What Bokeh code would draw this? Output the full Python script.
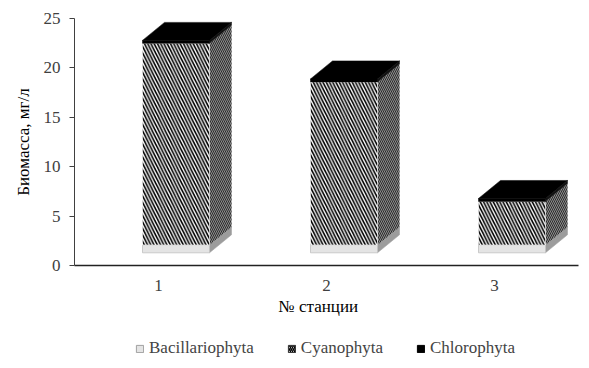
from bokeh.plotting import figure
from bokeh.layouts import column
from bokeh.models import Range1d, FixedTicker, Legend, LegendItem, Title
from bokeh.embed import file_html
from bokeh.resources import INLINE

# ---- data ----
stations = [1, 2, 3]
station_labels = ["1", "2", "3"]
series_names = ["Bacillariophyta", "Cyanophyta", "Chlorophyta"]
bacillariophyta = [0.8, 0.8, 0.8]
cyanophyta = [20.4, 16.5, 4.4]
chlorophyta = [0.3, 0.3, 0.3]
y_ticks = [0, 5, 10, 15, 20, 25]

# ---- layout constants ----
W, H1, H2 = 589, 330, 38
LEFT, RIGHT, TOP, BOTTOM = 74, 11, 18, 65
frame_w = W - LEFT - RIGHT
frame_h = H1 - TOP - BOTTOM
x0, x1 = 0.5, 3.5
y0, y1 = 0, 25
px_x = (x1 - x0) / frame_w
px_y = (y1 - y0) / frame_h

DX = 22 * px_x       # depth offset (x)
DY = 18 * px_y       # depth offset (y)
BAR_W = 67 * px_x
BAR_SHIFT = 17.5 * px_x
BASE = 12.7 * px_y

FONT = "Liberation Serif"
FS = "17px"

p = figure(width=W, height=H1, output_backend="svg", toolbar_location=None,
           x_range=Range1d(x0, x1), y_range=Range1d(y0, y1),
           min_border_left=LEFT, min_border_right=RIGHT,
           min_border_top=TOP, min_border_bottom=BOTTOM)
p.outline_line_color = None
p.grid.visible = False
p.background_fill_color = "white"

front_styles = [
    dict(fill_color="#e4e4e4", line_color="#c0c0c0", line_width=0.8),
    dict(fill_color="white", hatch_pattern="\\", hatch_color="black",
         hatch_scale=6.5, hatch_weight=1.6, line_color="#ffffff", line_width=0.5),
    dict(fill_color="black", line_color="black", line_width=0.5),
]
side_styles = [
    dict(fill_color="#9c9c9c", line_color="#9c9c9c", line_width=0.5),
    dict(fill_color="#8c8c8c", hatch_pattern="\\", hatch_color="#2c2c2c",
         hatch_scale=4, hatch_weight=1, line_color=None),
    dict(fill_color="#111111", line_color="#111111", line_width=0.5),
]
top_style = dict(fill_color="black", line_color="black", line_width=0.5)
key_styles = [
    dict(fill_color="#e4e4e4", line_color="#a0a0a0", line_width=1),
    dict(fill_color="white", hatch_pattern="\\", hatch_color="black",
         hatch_scale=4, hatch_weight=1.5, line_color="#333333", line_width=1),
    dict(fill_color="black", line_color="black", line_width=1),
]

series = [bacillariophyta, cyanophyta, chlorophyta]
cum = [0.0] * len(stations)
for k, vals in enumerate(series):
    lefts, rights, bottoms, tops = [], [], [], []
    sx, sy = [], []
    for i, s in enumerate(stations):
        L = s + BAR_SHIFT - BAR_W / 2
        R = s + BAR_SHIFT + BAR_W / 2
        b = BASE + cum[i]
        t = BASE + cum[i] + vals[i]
        lefts.append(L); rights.append(R); bottoms.append(b); tops.append(t)
        sx.append([R, R + DX, R + DX, R])
        sy.append([b, b + DY, t + DY, t])
    p.patches(xs=sx, ys=sy, **side_styles[k])
    p.quad(left=lefts, right=rights, bottom=bottoms, top=tops, **front_styles[k])
    cum = [cum[i] + vals[i] for i in range(len(stations))]

# top faces of the stacks
tx, ty = [], []
for i, s in enumerate(stations):
    L = s + BAR_SHIFT - BAR_W / 2
    R = s + BAR_SHIFT + BAR_W / 2
    t = BASE + cum[i]
    tx.append([L, R, R + DX, L + DX])
    ty.append([t, t, t + DY, t + DY])
p.patches(xs=tx, ys=ty, **top_style)

# ---- axes ----
p.yaxis.ticker = FixedTicker(ticks=y_ticks)
p.yaxis.axis_label = "Биомасса, мг/л"
p.yaxis.axis_label_text_font = FONT
p.yaxis.axis_label_text_font_style = "normal"
p.yaxis.axis_label_text_font_size = FS
p.yaxis.axis_label_text_color = "black"
p.yaxis.axis_label_standoff = 8
p.yaxis.major_label_text_font = FONT
p.yaxis.major_label_text_font_size = FS
p.yaxis.major_label_text_color = "#404040"
p.yaxis.major_label_standoff = 9
p.yaxis.major_tick_out = 5
p.yaxis.major_tick_in = 0
p.yaxis.minor_tick_line_color = None
p.yaxis.axis_line_color = "#404040"
p.yaxis.major_tick_line_color = "#404040"

p.xaxis.ticker = FixedTicker(ticks=stations)
p.xaxis.major_label_overrides = {s: l for s, l in zip(stations, station_labels)}
p.xaxis.major_label_text_font = FONT
p.xaxis.major_label_text_font_size = FS
p.xaxis.major_label_text_color = "#404040"
p.xaxis.major_label_standoff = 8
p.xaxis.major_tick_line_color = None
p.xaxis.minor_tick_line_color = None
p.xaxis.axis_line_color = "#222222"
p.xaxis.axis_line_width = 1.5

xlabel = Title(text="№ станции", align="left", offset=204,
               text_font=FONT, text_font_size=FS, text_font_style="normal",
               text_color="black", standoff=3)
p.add_layout(xlabel, "below")

# ---- legend (separate strip below the chart; its frame aligns with the chart's) ----
q = figure(width=W, height=H2, output_backend="svg", toolbar_location=None,
           x_range=Range1d(0, 1), y_range=Range1d(0, 1),
           x_axis_type=None, y_axis_type=None,
           min_border_left=0, min_border_right=0, min_border_top=0, min_border_bottom=0)
q.outline_line_color = None
q.grid.visible = False
# legend keys: off-range renderers carrying the series styles
legend_renderers = [q.quad(left=[-3], right=[-2], bottom=[-3], top=[-2], **st) for st in key_styles]
legend = Legend(items=[LegendItem(label=n, renderers=[r]) for n, r in zip(series_names, legend_renderers)],
                orientation="horizontal", location=(61, 10),
                glyph_width=9, glyph_height=9, label_standoff=5, spacing=33,
                label_text_font=FONT, label_text_font_size=FS, label_height=16,
                padding=0, margin=0, border_line_color=None, background_fill_alpha=0)
q.add_layout(legend, "center")

layout = column(p, q, spacing=0)
open("out.html", "w").write(file_html(layout, INLINE))
